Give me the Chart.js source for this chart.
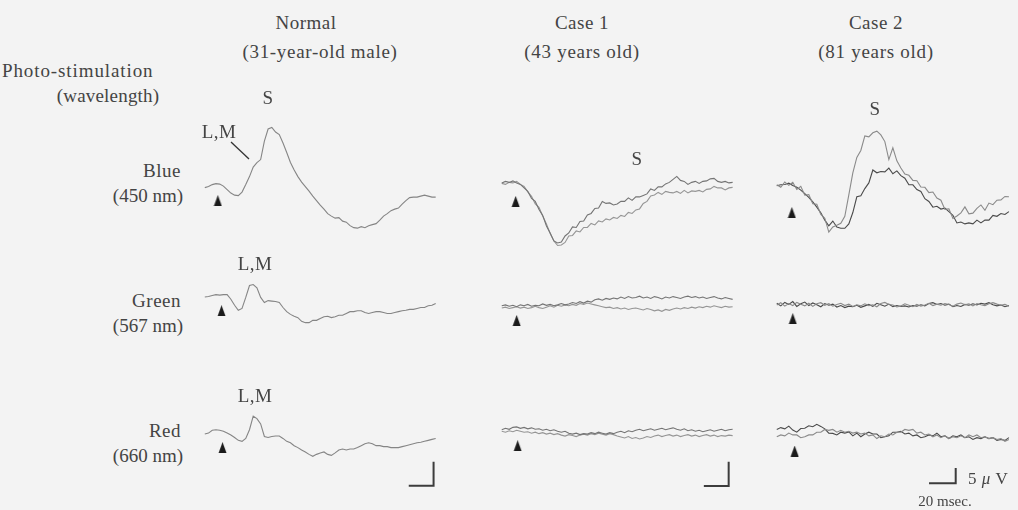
<!DOCTYPE html>
<html><head><meta charset="utf-8">
<script src="https://cdn.jsdelivr.net/npm/chart.js@4.4.1/dist/chart.umd.min.js"></script>
<style>
html,body{margin:0;padding:0;background:#f3f3f3;}
#wrap{position:relative;width:1018px;height:510px;overflow:hidden;background:#f3f3f3;font-family:"Liberation Serif","DejaVu Serif",serif;color:#444;}
#wrap canvas{position:absolute;}
.lbl{position:absolute;white-space:nowrap;font-size:19px;line-height:1;letter-spacing:0.5px;}
</style></head><body><div id="wrap"></div>
<script>
// ---- time grids (ms) ----
const tA = [-12,-9,-6,-3,0,3,6,9,12,15,18,21,24,27,30,33,36,39,42,45,48,51,54,57,60,63,66,69,72,75,78,81,84,87,90,93,96,99,102,105,108,111,114,117,120,123,126,129,132,135,138,141,144,147,150,153,156,159,162,165,168,171,174];
const tB = [-12,-9,-6,-3,0,3,6,9,12,15,18,21,24,27,30,33,36,39,42,45,48,51,54,57,60,63,66,69,72,75,78,81,84,87,90,93,96,99,102,105,108,111,114,117,120,123,126,129,132,135,138,141,144,147,150,153,156,159,162];

// ---- amplitudes (µV) ----
const normalBlue = [0,0.2,0.6,0.8,0.7,0.3,-0.4,-1.1,-1.5,-1.6,-0.9,0.6,2.2,4.1,5.0,5.6,9.3,11.7,12.0,11.1,10.6,8.9,7.0,5.0,3.5,2.2,1.1,0.2,-0.7,-1.7,-2.6,-3.5,-4.3,-5.2,-5.7,-6.1,-6.0,-6.7,-6.9,-7.6,-8.0,-8.1,-7.8,-8.0,-7.6,-7.4,-7.2,-6.5,-5.7,-5.2,-4.6,-4.3,-4.1,-3.3,-2.6,-2.0,-1.9,-1.9,-1.7,-1.5,-1.7,-1.9,-1.9];
const normalGreen = [-0.1,0,0.2,0.4,0.3,0.4,0.4,-0.6,-1.9,-3.0,-2.6,-0.2,2.4,2.6,1.9,-0.2,-1.3,-0.9,-1.0,-1.1,-1.3,-2.4,-3.3,-3.9,-4.3,-4.6,-5.4,-5.7,-5.7,-5.2,-5.2,-4.8,-4.4,-4.3,-4.6,-4.4,-4.1,-4.1,-3.7,-3.3,-3.3,-3.1,-3.1,-3.5,-3.7,-3.5,-3.3,-3.3,-3.5,-3.7,-3.7,-3.5,-3.3,-3.1,-3.0,-2.8,-2.8,-2.6,-2.4,-2.4,-2.0,-1.9,-1.5];
const normalRed = [-0.2,0,0.6,0.7,0.6,0.4,0,-0.4,-0.9,-1.5,-1.7,-1.1,0.7,3.5,3.0,1.9,-0.7,-0.9,-0.7,-0.6,-0.6,-1.1,-1.7,-2.0,-2.6,-3.0,-3.5,-3.9,-4.4,-4.8,-4.4,-4.1,-3.9,-4.4,-4.6,-4.1,-3.5,-3.3,-3.5,-3.3,-3.3,-3.0,-2.6,-2.2,-2.0,-2.2,-2.6,-2.6,-2.8,-2.8,-3.0,-3.0,-3.0,-2.8,-2.6,-2.4,-2.2,-2.0,-1.9,-1.7,-1.5,-1.3,-1.1];

const case1BlueA = [0.2,0.5,0.3,0.6,0.2,-0.1,-0.8,-1.5,-2.9,-3.5,-5.1,-6.3,-8.4,-9.8,-11.4,-11.8,-11.6,-10.4,-9.8,-8.6,-8.7,-7.5,-7.4,-6.2,-5.9,-4.9,-4.8,-3.5,-3.9,-3.8,-4.2,-4.0,-3.5,-3.5,-2.8,-3.3,-2.6,-2.6,-2.3,-2.0,-1.0,-1.3,-0.6,-0.6,0.0,0.3,0.9,1.5,0.7,0.5,-0.1,0.3,0.5,0.1,0.5,0.6,1.0,1.1,0.5,0.3,0.5,0.2,0.3];
const case1BlueB = [0.1,-0.1,0.3,0.2,0.5,-0.1,-0.5,-1.6,-2.5,-4.0,-4.7,-6.4,-8.0,-9.9,-11.4,-12.3,-12.2,-11.7,-10.4,-10.3,-9.4,-9.6,-8.7,-8.7,-7.9,-8.2,-7.4,-7.6,-7.0,-7.2,-6.7,-6.9,-6.3,-6.5,-5.7,-5.9,-5.2,-5.0,-3.9,-3.5,-2.4,-2.2,-1.7,-2.1,-1.5,-1.7,-1.8,-1.5,-1.9,-1.3,-1.8,-1.4,-1.5,-1.3,-1.6,-1.1,-1.0,-0.5,-0.8,-0.8,-1.2,-0.8,-0.7];
const case1GreenA = [0.2,0.4,0.1,0.3,0.0,0.4,0.2,0.5,0.1,0.3,0.2,0.6,0.3,0.5,0.2,0.4,0.7,0.4,0.6,0.9,0.7,1.1,0.8,1.2,1.0,1.5,1.7,1.4,1.8,1.6,1.9,1.7,2.1,1.8,2.2,1.9,2.0,2.3,1.9,2.1,1.8,2.2,2.0,1.7,2.1,1.9,2.2,2.0,1.8,2.1,2.3,2.0,2.2,1.9,2.1,1.8,2.0,2.2,1.9,1.7,2.0,1.8,1.6];
const case1GreenB = [-0.3,-0.1,-0.4,-0.2,0.0,-0.3,-0.1,-0.4,-0.2,0.1,-0.2,-0.4,-0.1,0.2,-0.1,0.3,0.1,0.4,0.2,0.5,0.3,0.7,0.5,0.8,0.6,0.4,0.2,0.0,-0.2,-0.1,-0.4,-0.2,-0.5,-0.3,-0.6,-0.4,-0.3,-0.5,-0.7,-0.4,-0.6,-0.9,-0.7,-1.0,-0.6,-0.8,-0.5,-0.3,-0.5,-0.2,-0.4,-0.1,-0.3,0.0,-0.2,0.1,-0.1,0.2,0.0,-0.2,0.1,-0.1,0.0];
const case1RedA = [0.5,0.8,0.6,1.0,1.1,0.8,1.0,0.7,0.9,0.6,0.7,0.4,0.6,0.3,0.5,0.2,0.0,0.2,-0.2,-0.4,-0.2,-0.5,-0.3,-0.4,-0.1,-0.3,0.0,-0.2,-0.4,-0.1,-0.3,0.0,0.2,-0.1,0.3,0.1,0.4,0.6,0.3,0.5,0.7,0.4,0.6,0.8,0.5,0.7,0.9,0.6,0.4,0.7,0.3,0.5,0.2,0.4,0.1,0.3,0.5,0.2,0.4,0.6,0.3,0.5,0.6];
const case1RedB = [0.2,0.0,0.3,0.1,0.4,0.2,0.0,0.1,-0.2,0.0,-0.3,-0.1,-0.4,-0.2,-0.5,-0.3,-0.6,-0.8,-0.5,-0.7,-0.9,-0.6,-0.4,-0.6,-0.3,-0.5,-0.2,-0.4,-0.6,-0.3,-0.5,-0.8,-1.0,-1.2,-0.9,-1.3,-1.1,-1.4,-1.2,-0.9,-1.1,-0.8,-0.6,-0.9,-0.7,-0.5,-0.8,-0.6,-0.9,-0.7,-0.5,-0.8,-0.6,-0.9,-0.7,-0.5,-0.8,-0.6,-0.9,-0.7,-0.8,-0.6,-0.7];

const case2BlueA = [0.6,-0.2,1.5,0.4,1.4,-0.9,0.1,-2.7,-2.5,-5.4,-5.6,-8.8,-10.0,-14.4,-12.8,-12.2,-11.6,-9.4,-2.6,4.4,9.3,11.5,16.1,15.8,17.1,17.6,16.4,14.3,8.6,12.3,8.2,5.9,4.0,3.6,2.0,1.9,-0.1,-0.2,-1.9,-1.7,-3.6,-4.3,-7.2,-7.0,-10.1,-9.3,-8.3,-6.4,-8.6,-8.4,-6.9,-5.8,-7.5,-5.2,-5.7,-4.3,-4.2,-3.1,-3.2];
const case2BlueB = [0.3,0.6,0.7,1.1,0.4,-0.2,-1.1,-2.2,-3.4,-4.8,-6.5,-8.3,-10.6,-12.4,-10.9,-12.8,-13.2,-13.2,-11.8,-8.2,-3.2,-2.9,-0.6,1.2,5.3,4.4,4.8,4.7,5.9,4.1,5.0,3.5,2.7,0.6,0.6,-0.9,-1.5,-3.8,-4.7,-6.5,-6.2,-7.1,-6.8,-7.9,-9.1,-11.5,-11.2,-11.8,-11.5,-11.8,-10.6,-11.5,-10.6,-10.6,-9.1,-9.4,-8.5,-8.8,-7.9];
const case2GreenA = [0.6,-0.3,0.9,0.2,1.2,-0.5,0.4,1.0,-0.2,0.7,0.1,-0.6,0.5,-0.1,0.3,-0.7,-0.2,-0.9,-0.4,-0.6,-0.1,-0.8,-0.3,0.2,-0.5,0.6,0.1,-0.4,0.3,-0.6,-0.2,-0.5,-0.3,-0.7,-0.2,-0.4,0.1,-0.3,0.5,0.8,0.2,0.5,-0.1,0.3,-0.6,-0.2,-0.5,0.2,-0.1,0.4,0.0,0.6,0.3,0.8,0.1,-0.3,0.0,-0.6,-0.2];
const case2GreenB = [0.0,0.8,-0.4,0.5,-0.2,0.9,0.3,-0.3,0.6,-0.5,0.4,0.8,-0.1,0.5,-0.4,0.2,0.6,-0.2,0.3,-0.5,0.1,-0.3,0.4,-0.2,0.1,-0.6,0.5,0.9,0.2,0.0,-0.7,-0.3,0.4,-0.1,-0.6,0.2,-0.4,0.0,0.6,-0.2,0.3,-0.1,0.5,0.2,-0.4,0.3,0.7,0.1,0.4,-0.3,0.5,0.1,-0.2,0.4,0.8,0.3,-0.1,0.2,-0.4];
const case2RedA = [1.2,1.8,1.4,2.3,1.0,0.3,1.5,1.6,2.4,2.1,2.9,2.2,1.4,0.0,-0.1,-0.6,0.3,0.0,0.4,-0.9,0.0,-1.2,-0.3,0.3,-0.3,-0.3,-1.5,-1.2,-0.9,0.3,0.3,0.6,-0.3,0.0,-0.9,-0.6,-1.5,-1.2,-0.6,-0.9,0.0,-1.2,-0.9,-1.8,-0.9,-1.2,-0.6,-1.5,-1.2,-2.1,-1.5,-1.8,-1.2,-1.8,-1.5,-2.4,-2.1,-2.4,-1.5];
const case2RedB = [-1.2,-0.6,-0.9,0.0,-0.6,-0.6,-1.5,-1.2,-0.6,-0.6,0.3,0.3,1.2,0.9,1.2,0.3,0.9,0.3,0.6,0.0,0.3,-0.3,0.0,-0.9,-0.6,-1.8,-0.9,-1.2,-0.3,-0.6,0.3,0.3,1.2,0.9,1.2,0.0,0.3,-0.6,-0.3,-1.2,-0.6,-1.5,-0.9,-1.8,-1.2,-1.5,-0.9,-1.5,-0.6,-1.2,-0.6,-1.5,-1.2,-1.8,-1.5,-2.1,-1.8,-2.7,-2.1];

// stimulus arrow (time ms, level µV) per panel, row-major: Normal, Case1, Case2
const arrowTimes  = [[-1.5,1.5,2.3],[-0.8,0,0.8],[-0.7,0,1.4]];
const arrowLevels = [[-2.6,-3.1,-3.0],[-3.5,-3.0,-2.8],[-8.2,-4.7,-5.9]];
// calibration bars: 20 ms, 5 µV ; corner (ms, µV)
const barMs = 20, barUv = 5;
const barCorners = [[172.3,-10.9],[170.8,-11.1],[122.1,-16.5]];

// ---- text ----
const columnTitles = [["Normal","(31-year-old male)"],["Case 1","(43 years old)"],["Case 2","(81 years old)"]];
const rowLabels = [["Blue","(450 nm)"],["Green","(567 nm)"],["Red","(660 nm)"]];

// ---- layout ----
const wrap = document.getElementById('wrap');
const cols = [
  {x0:215, kx:1.3, ky:5.4, left:186, w:266, y0s:[188,295,432], t:tA, c:['#858585',null]},
  {x0:512, kx:1.3, ky:5.4, left:482, w:266, y0s:[184,307,431], t:tA, c:['#747474','#959595']},
  {x0:788, kx:1.4, ky:3.4, left:762, w:256, y0s:[187,305,432], t:tB, c:['#8a8a8a','#4a4a4a']}
];
const rows = [{top:100,h:165},{top:265,h:80},{top:385,h:115}];
const series = [
  [[normalBlue],[normalGreen],[normalRed]],
  [[case1BlueA,case1BlueB],[case1GreenA,case1GreenB],[case1RedA,case1RedB]],
  [[case2BlueA,case2BlueB],[case2GreenB,case2GreenA],[case2RedB,case2RedA]]
];

const arrowImg = document.createElement('canvas');
arrowImg.width = 9; arrowImg.height = 11;
{const g = arrowImg.getContext('2d'); g.fillStyle='#1a1a1a'; g.beginPath(); g.moveTo(4.5,0); g.lineTo(8.5,11); g.lineTo(0.5,11); g.closePath(); g.fill();}

for (let ci=0; ci<3; ci++){
  const col = cols[ci];
  for (let ri=0; ri<3; ri++){
    const row = rows[ri];
    const y0 = col.y0s[ri];
    const cv = document.createElement('canvas');
    cv.width = col.w; cv.height = row.h;
    cv.style.left = col.left+'px'; cv.style.top = row.top+'px';
    cv.style.width = col.w+'px'; cv.style.height = row.h+'px';
    wrap.appendChild(cv);
    const ds = series[ci][ri].map((vals,k)=>({
      type:'line',
      data: vals.map((v,j)=>({x:col.t[j], y:v})),
      borderColor: (k===0?col.c[0]:col.c[1]),
      borderWidth: 1.1, pointRadius:0, tension:0, fill:false, clip:false
    }));
    ds.push({type:'scatter', data:[{x:arrowTimes[ci][ri], y:arrowLevels[ci][ri]}], pointStyle:arrowImg, pointRadius:5, clip:false});
    if (ri===2){
      const [bt,bv] = barCorners[ci];
      ds.push({type:'line', data:[{x:bt-barMs,y:bv},{x:bt,y:bv},{x:bt,y:bv+barUv}], borderColor:'#3c3c3c', borderWidth:2, pointRadius:0, tension:0, fill:false, clip:false});
    }
    new Chart(cv, {
      type:'line', data:{datasets:ds},
      options:{
        responsive:false, animation:false, devicePixelRatio:1, events:[],
        layout:{padding:0},
        plugins:{legend:{display:false}, tooltip:{enabled:false}, title:{display:false}},
        scales:{
          x:{type:'linear', display:false, min:(col.left-col.x0)/col.kx, max:(col.left+col.w-col.x0)/col.kx},
          y:{type:'linear', display:false, min:(y0-(row.top+row.h))/col.ky, max:(y0-row.top)/col.ky}
        }
      }
    });
  }
}

function label(text, x, y, anchor, size, html, ls){
  const d = document.createElement('div');
  d.className = 'lbl';
  if (html) d.innerHTML = text; else d.textContent = text;
  d.style.left = x+'px'; d.style.top = y+'px';
  if (size) d.style.fontSize = size+'px';
  if (ls !== undefined) d.style.letterSpacing = ls+'px';
  const tx = anchor==='l' ? '0' : anchor==='r' ? '-100%' : '-50%';
  d.style.transform = 'translate('+tx+',-50%)';
  wrap.appendChild(d);
}
const titleX = [306, 582, 876];
columnTitles.forEach((t,i)=>{ label(t[0], titleX[i], 22, 'c'); label(t[1], titleX[i]+(i===0?14:0), 51, 'c', null, false, 0.7); });
label("Photo-stimulation", 2, 70, 'l', null, false, 0.9);
label("(wavelength)", 108, 95, 'c', null, false, 0.2);
const rowY = [[170,195],[300,325],[430,455]];
rowLabels.forEach((r,i)=>{ label(r[0], 181, rowY[i][0], 'r'); label(r[1], 183, rowY[i][1], 'r', null, false, 0); });
label("S", 268, 97, 'c');
label("L,M", 219, 131, 'c');
label("L,M", 255, 263, 'c');
label("L,M", 255, 395, 'c');
label("S", 637, 158, 'c');
label("S", 875, 108, 'c');
label("5 <i>μ</i> V", 968, 478, 'l', 17, true);
label("20 msec.", 945, 501, 'c', 15, false, 0);

// L,M pointer line (normal, blue)
const ptr = document.createElement('canvas');
ptr.width = 40; ptr.height = 30; ptr.style.left='228px'; ptr.style.top='138px';
wrap.appendChild(ptr);
{const g=ptr.getContext('2d'); g.strokeStyle='#333'; g.lineWidth=1.3; g.beginPath(); g.moveTo(3,4); g.lineTo(21,21); g.stroke();}
</script>
</body></html>
